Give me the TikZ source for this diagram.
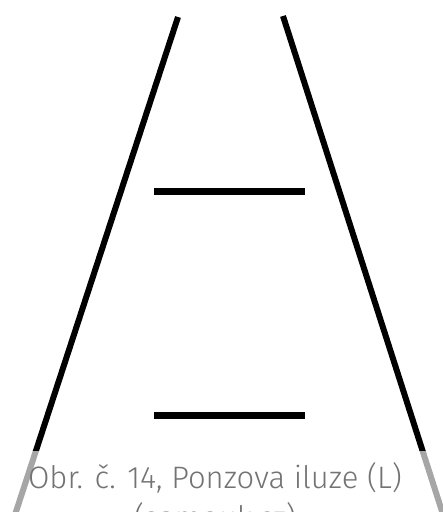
\documentclass[tikz,border=0pt]{standalone}
\usepackage{fontspec}
\setmainfont{Fira Sans}[UprightFont=* Light]
\usepackage{tikz}

\begin{document}
\begin{tikzpicture}[x=1pt,y=-1pt]
    \clip (0,0) rectangle (443,512);
    % ---- rails ----
    \coordinate (lt) at (178,17);
    \coordinate (lb) at (10,530);
    \coordinate (rt) at (283,16);
    \coordinate (rb) at (448,530);
    \draw[line width=6pt] (lt) -- (lb) (rt) -- (rb);
    % ---- bars ----
    \coordinate (ua) at (154,191);
    \coordinate (ub) at (305,191);
    \coordinate (da) at (154,415);
    \coordinate (db) at (305,415);
    \draw[line width=7pt] (ua) -- (ub) (da) -- (db);
    % ---- caption ----
    \fill[white,opacity=0.65] (0,451) rectangle (443,512);
    \node[anchor=base,text=black!55,font=\fontsize{31}{40}\selectfont,inner sep=0pt] (caption) at (215,488) {Obr. č. 14, Ponzova iluze (L)};
    \node[anchor=base,text=black!55,font=\fontsize{31}{40}\selectfont,inner sep=0pt] (source) at (215,528) {(samouk.cz)};
\end{tikzpicture}
\end{document}
